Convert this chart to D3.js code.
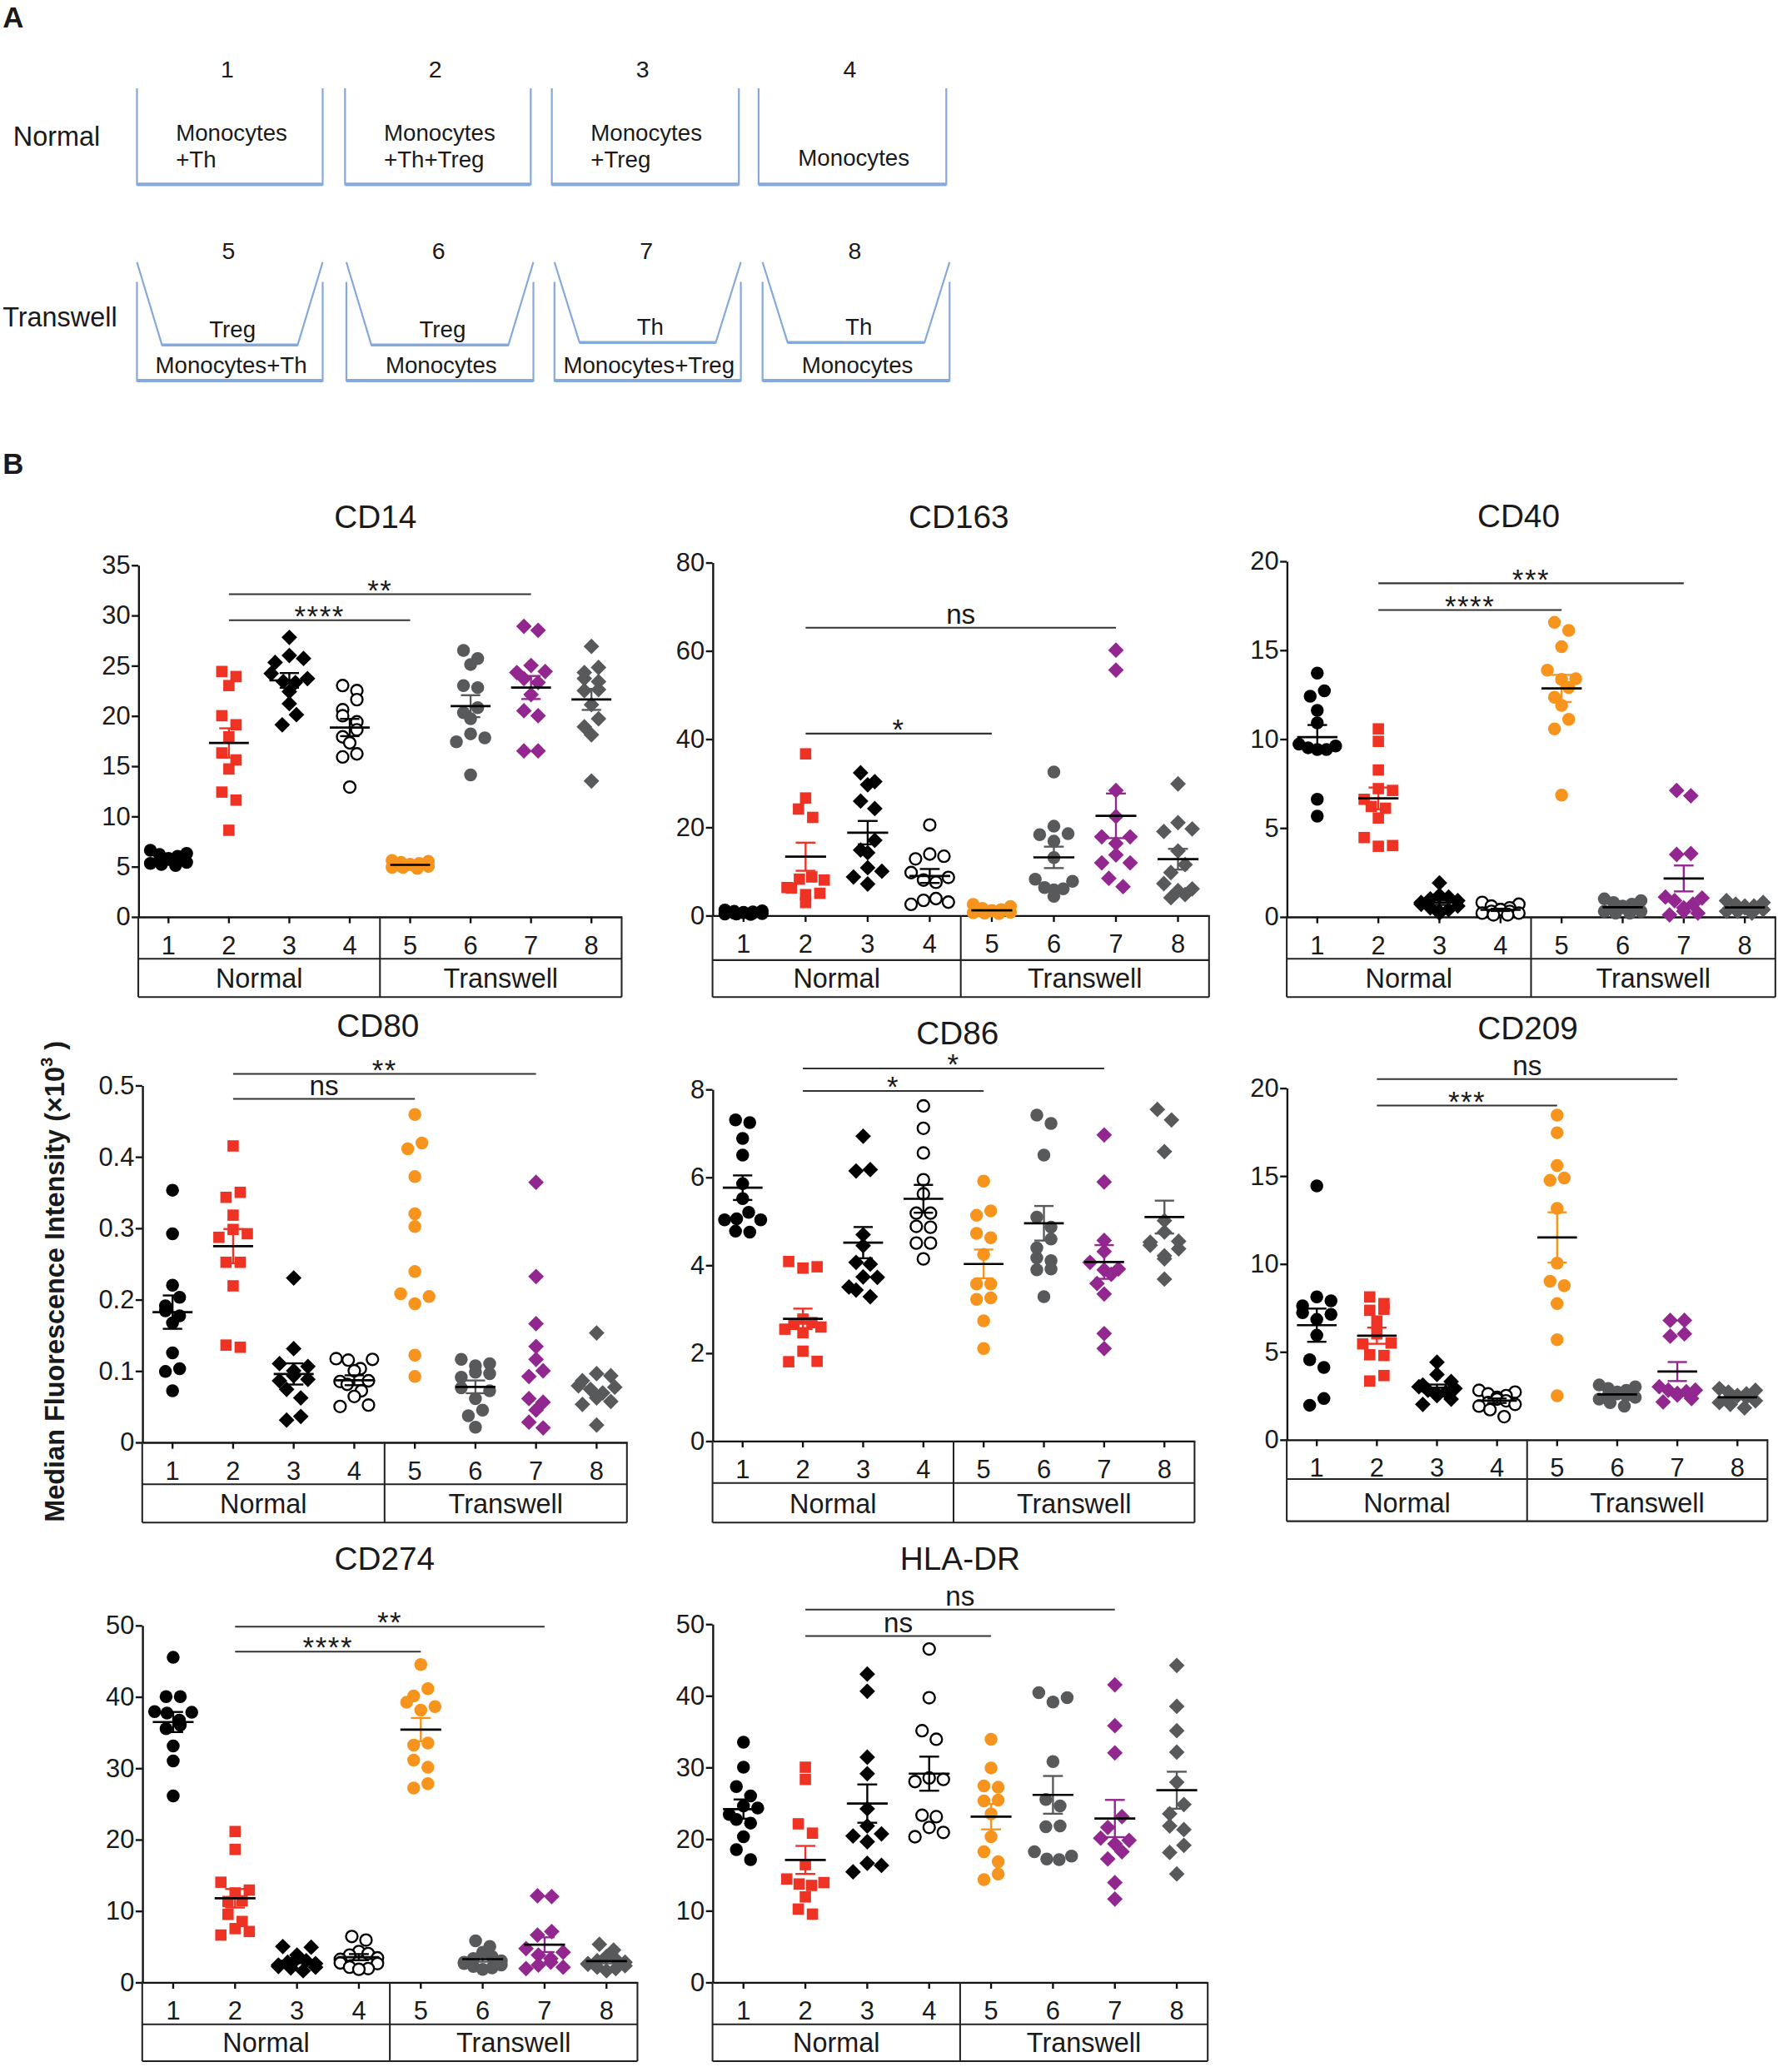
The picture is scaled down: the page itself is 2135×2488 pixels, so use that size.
<!DOCTYPE html>
<html>
<head>
<meta charset="utf-8">
<script src="https://cdn.jsdelivr.net/npm/d3@7"></script>
<style>
html,body{margin:0;padding:0;background:#fff;}
svg{display:block;}
text{font-family:"Liberation Sans",Arial,sans-serif;fill:#1a1a1a;}
</style>
</head>
<body>
<div id="fig"></div>
<script>
// categories
var groups = ["1","2","3","4","5","6","7","8"]
var sections = ["Normal","Transwell"]

// panel A labels
var normalWells = [["Monocytes","+Th"],["Monocytes","+Th+Treg"],["Monocytes","+Treg"],["","Monocytes"]]
var transwellWells = [["Treg","Monocytes+Th"],["Treg","Monocytes"],["Th","Monocytes+Treg"],["Th","Monocytes"]]

// values, one array of 12 donors per condition
var cd14 = [
 [6.6,6.3,6.2,6.0,5.8,5.7,5.6,5.5,5.4,5.3,5.2,5.1],
 [24.4,23.9,23.0,20.0,19.1,17.9,16.3,15.6,14.7,12.4,11.6,8.6],
 [27.8,26.0,25.7,25.3,24.2,23.7,23.4,23.3,22.4,21.2,20.1,19.1],
 [23.0,22.5,21.6,20.6,20.0,19.4,18.6,17.9,17.3,16.2,15.9,12.9],
 [5.6,5.5,5.4,5.3,5.2,5.2,5.1,5.0,5.0,4.9,4.9,4.8],
 [26.5,25.7,25.1,23.0,22.8,20.8,20.3,19.7,18.2,17.8,17.4,14.1],
 [28.9,28.5,25.0,24.4,24.3,23.7,23.3,22.1,20.5,20.0,16.5,16.5],
 [26.9,24.8,24.3,23.7,23.4,22.6,22.5,21.1,19.7,18.9,18.1,13.5]
]
var cd14Ticks = [0,5,10,15,20,25,30,35]
var cd14Sig = [[2,7,32.1,"**"],[2,5,29.5,"****"]]

var cd163 = [
 [1.2,1.0,0.9,0.8,0.7,0.6,0.5,0.5,0.4,0.3,0.3,0.2],
 [36.6,26.6,24.1,22.2,8.7,8.2,8.0,6.3,6.2,5.0,4.7,2.9],
 [32.3,30.3,29.6,25.9,24.2,17.0,14.8,14.2,10.8,10.0,8.7,7.1],
 [20.5,13.9,13.4,12.8,9.7,8.6,8.0,7.5,3.8,3.4,3.0,2.5],
 [2.5,2.0,1.6,1.3,1.1,1.0,0.9,0.8,0.7,0.6,0.5,0.4],
 [32.5,20.2,18.5,18.3,16.8,13.1,8.2,7.7,6.3,6.0,5.8,4.3],
 [60.1,55.6,28.3,22.4,17.8,17.8,16.3,13.7,11.9,11.9,8.4,6.5],
 [29.8,21.0,19.6,19.0,14.6,11.5,9.7,7.2,6.0,5.6,4.7,4.0]
]
var cd163Ticks = [0,20,40,60,80]
var cd163Sig = [[2,7,65.2,"ns"],[2,5,41.2,"*"]]

var cd40 = [
 [13.7,12.7,12.4,11.6,10.9,9.7,9.6,9.5,9.4,9.4,6.6,5.65],
 [10.56,9.86,8.25,7.2,7.1,6.6,6.2,6.1,5.55,4.45,3.96,4.0],
 [1.9,1.2,1.1,1.0,0.9,0.8,0.7,0.6,0.5,0.4,0.3,0.2],
 [0.8,0.7,0.6,0.5,0.4,0.4,0.3,0.3,0.2,0.2,0.1,0.1],
 [16.55,16.1,15.18,13.86,13.38,13.35,12.89,12.34,11.88,11.1,10.56,6.84],
 [1.0,0.9,0.8,0.7,0.6,0.5,0.5,0.4,0.3,0.3,0.2,0.2],
 [7.1,6.8,3.55,3.5,1.1,1.05,0.9,0.7,0.5,0.3,0.2,0.1],
 [0.9,0.8,0.7,0.6,0.6,0.5,0.5,0.4,0.4,0.3,0.3,0.2]
]
var cd40Ticks = [0,5,10,15,20]
var cd40Sig = [[2,7,18.75,"***"],[2,5,17.25,"****"]]

var cd80 = [
 [.353,.292,.220,.203,.191,.184,.177,.167,.125,.103,.099,.072],
 [.415,.350,.343,.318,.298,.292,.287,.252,.252,.219,.136,.133],
 [.230,.131,.110,.106,.100,.093,.088,.086,.074,.062,.036,.031],
 [.117,.116,.115,.103,.100,.086,.085,.081,.072,.064,.052,.050],
 [.459,.419,.411,.372,.320,.302,.239,.208,.204,.194,.122,.092],
 [.116,.110,.107,.098,.096,.091,.076,.072,.061,.045,.037,.021],
 [.364,.232,.166,.134,.116,.100,.092,.061,.056,.045,.028,.020],
 [.153,.096,.093,.086,.079,.077,.074,.069,.062,.057,.053,.024]
]
var cd80Ticks = [0,0.1,0.2,0.3,0.4,0.5]
var cd80Sig = [[2,7,0.516,"**"],[2,5,0.481,"ns"]]

var cd86 = [
 [7.30,7.24,6.88,6.50,5.85,5.51,5.20,5.05,5.03,5.03,4.77,4.75],
 [4.08,3.96,3.93,2.77,2.69,2.65,2.59,2.54,2.46,2.04,1.81,1.80],
 [6.93,6.17,6.14,4.69,4.44,4.06,4.02,3.73,3.72,3.50,3.43,3.28],
 [7.62,7.11,6.55,5.94,5.62,5.18,5.18,4.88,4.86,4.50,4.50,4.14],
 [5.91,5.23,5.13,4.72,4.62,4.24,3.57,3.57,3.25,3.22,2.73,2.10],
 [7.41,7.22,6.50,5.09,4.86,4.59,4.39,4.16,4.10,3.91,3.89,3.28],
 [6.96,5.89,4.56,4.31,4.06,3.91,3.89,3.79,3.58,3.34,2.44,2.10],
 [7.54,7.30,6.58,5.01,4.75,4.54,4.52,4.45,4.37,4.21,4.14,3.68]
]
var cd86Ticks = [0,2,4,6,8]
var cd86Sig = [[2,7,8.47,"*"],[2,5,7.96,"*"]]

var cd209 = [
 [14.43,8.11,7.89,7.60,7.21,7.12,6.83,5.93,4.54,4.10,2.33,1.95],
 [8.11,7.73,7.41,7.35,6.74,6.01,5.49,5.44,4.82,4.78,3.64,3.33],
 [4.4,3.7,3.3,3.1,3.0,2.9,2.8,2.7,2.6,2.5,2.3,2.0],
 [2.8,2.7,2.6,2.5,2.4,2.3,2.2,2.1,2.0,1.9,1.7,1.3],
 [18.45,17.45,15.58,14.87,14.74,13.15,10.03,9.0,8.75,7.73,5.68,2.49],
 [3.1,3.0,2.9,2.8,2.7,2.6,2.5,2.5,2.4,2.3,2.1,1.9],
 [6.78,6.78,6.01,5.88,3.0,2.81,2.81,2.72,2.62,2.53,2.33,2.14],
 [2.9,2.8,2.7,2.6,2.5,2.5,2.4,2.3,2.2,2.1,2.0,1.8]
]
var cd209Ticks = [0,5,10,15,20]
var cd209Sig = [[2,7,20.5,"ns"],[2,5,19.0,"***"]]

var cd274 = [
 [45.5,40.0,40.0,37.9,37.8,37.7,36.7,36.0,35.5,33.1,31.0,26.1],
 [21.1,18.6,14.0,12.9,12.5,11.4,11.3,9.5,8.5,7.5,7.1,6.6],
 [5.0,4.9,3.8,3.3,3.0,2.8,2.6,2.4,2.2,2.1,2.0,1.6],
 [6.4,5.9,4.3,4.0,3.8,3.4,3.2,2.7,2.6,2.1,1.9,1.8],
 [44.5,41.1,40.1,39.2,38.6,38.1,33.5,33.2,31.1,30.1,27.8,27.2],
 [5.8,5.0,4.2,3.6,3.3,3.0,2.8,2.6,2.4,2.2,2.0,1.8],
 [12.1,12.0,7.1,6.6,4.7,4.2,3.8,3.3,2.8,2.4,2.1,1.9],
 [5.3,4.5,3.6,3.2,3.0,2.8,2.6,2.5,2.3,2.1,1.9,1.6]
]
var cd274Ticks = [0,10,20,30,40,50]
var cd274Sig = [[2,7,49.8,"**"],[2,5,46.3,"****"]]

var hladr = [
 [33.5,30.0,27.3,26.0,24.6,24.3,23.4,22.7,22.2,20.3,18.5,17.1],
 [30.0,28.3,22.1,20.8,16.4,14.4,13.9,13.7,13.5,11.9,10.2,9.5],
 [43.0,40.6,31.4,29.1,24.2,21.8,20.7,20.4,19.6,16.6,16.3,15.4],
 [46.5,39.7,35.1,33.9,28.5,28.3,28.0,23.3,23.1,21.6,20.9,20.3],
 [33.9,29.9,27.4,27.2,25.4,25.3,23.5,20.3,18.2,16.8,15.1,14.3],
 [40.4,39.7,39.1,30.8,25.5,24.6,21.8,21.7,18.2,17.6,17.2,17.1],
 [41.5,35.8,32.0,23.1,21.6,20.1,19.8,19.3,18.2,17.2,13.9,11.6],
 [44.2,38.5,35.1,32.1,27.9,24.8,23.5,21.8,21.3,19.1,18.1,15.1]
]
var hladrTicks = [0,10,20,30,40,50]
var hladrSig = [[2,7,52.0,"ns"],[2,5,48.3,"ns"]]

// styles per condition
var RED = "#ee3224", ORANGE = "#f7941d", PURPLE = "#92278f", GREY = "#58595b", BLUE = "#86a9dc"
var fills = ["#000", RED, "#000", "#fff", ORANGE, GREY, PURPLE, GREY]
var shapes = ["circle","square","diamond","circle","circle","circle","diamond","diamond"]
var semColors = ["#000", RED, "#000", "#000", ORANGE, GREY, PURPLE, GREY]

// layout in a 1350 wide drawing space, scaled up by the viewBox
var W = 1350, H = 1350 * 2488 / 2135
var panels = [
 {name:"CD14", data:cd14, ticks:cd14Ticks, sig:cd14Sig, left:105, right:472, top:429, zero:696, mid:728, bot:757, tx:285, ty:401},
 {name:"CD163", data:cd163, ticks:cd163Ticks, sig:cd163Sig, left:541, right:918, top:427, zero:695, mid:729, bot:757, tx:728, ty:401},
 {name:"CD40", data:cd40, ticks:cd40Ticks, sig:cd40Sig, left:977, right:1348, top:426, zero:696, mid:728, bot:757, tx:1153, ty:400},
 {name:"CD80", data:cd80, ticks:cd80Ticks, sig:cd80Sig, left:108, right:476, top:824, zero:1095, mid:1127, bot:1156, tx:287, ty:787, noMean:[4,6,7]},
 {name:"CD86", data:cd86, ticks:cd86Ticks, sig:cd86Sig, left:541, right:907, top:827, zero:1094, mid:1126, bot:1156, tx:727, ty:793},
 {name:"CD209", data:cd209, ticks:cd209Ticks, sig:cd209Sig, left:977, right:1342, top:826, zero:1093, mid:1123, bot:1155, tx:1160, ty:789},
 {name:"CD274", data:cd274, ticks:cd274Ticks, sig:cd274Sig, left:108, right:484, top:1234, zero:1505, mid:1537, bot:1565, tx:292, ty:1192},
 {name:"HLA-DR", data:hladr, ticks:hladrTicks, sig:hladrSig, left:541, right:917, top:1233, zero:1505, mid:1537, bot:1565, tx:729, ty:1192}
]

var svg = d3.select("#fig").append("svg")
  .attr("width", 2135).attr("height", 2488)
  .attr("viewBox", "0 0 " + W + " " + H)

// ---------- panel A: well schematic ----------
svg.append("text").attr("x", 2).attr("y", 21).attr("font-size", 22).attr("font-weight", "bold").text("A")
svg.append("text").attr("x", 2).attr("y", 360).attr("font-size", 22).attr("font-weight", "bold").text("B")

var wellX = [[104,245],[262,403],[419,561],[576,718.5]]
var twX = [[104,245],[263,405],[421,562.5],[579,721]]
var insetIn = 19

svg.append("text").attr("x", 10).attr("y", 110.5).attr("font-size", 20.5).text("Normal")
svg.append("text").attr("x", 2).attr("y", 248).attr("font-size", 20.5).text("Transwell")

normalWells.forEach(function(t, i) {
  var a = wellX[i][0], b = wellX[i][1], c = (a + b) / 2
  svg.append("path").attr("d", "M" + a + ",67V140H" + b + "V67")
    .attr("fill", "none").attr("stroke", BLUE).attr("stroke-width", 1.4)
  svg.append("line").attr("x1", a).attr("x2", b).attr("y1", 140).attr("y2", 140)
    .attr("stroke", BLUE).attr("stroke-width", 2.6)
  svg.append("text").attr("x", c - 2).attr("y", 58.5).attr("text-anchor", "middle").attr("font-size", 18).text(groups[i])
  if (t[0]) {
    svg.append("text").attr("x", a + 29.5).attr("y", 107).attr("font-size", 17.5).text(t[0])
    svg.append("text").attr("x", a + 29.5).attr("y", 127).attr("font-size", 17.5).text(t[1])
  } else {
    svg.append("text").attr("x", c + 1).attr("y", 126).attr("text-anchor", "middle").attr("font-size", 17.5).text(t[1])
  }
})

transwellWells.forEach(function(t, i) {
  var a = twX[i][0], b = twX[i][1], c = (a + b) / 2
  var yb = i < 2 ? 262 : 260
  svg.append("path").attr("d", "M" + a + ",214V289H" + b + "V214")
    .attr("fill", "none").attr("stroke", BLUE).attr("stroke-width", 1.4)
  svg.append("line").attr("x1", a).attr("x2", b).attr("y1", 289).attr("y2", 289)
    .attr("stroke", BLUE).attr("stroke-width", 2.6)
  svg.append("path").attr("d", "M" + a + ",199L" + (a + insetIn) + "," + yb + "H" + (b - insetIn) + "L" + b + ",199")
    .attr("fill", "none").attr("stroke", BLUE).attr("stroke-width", 1.4)
  svg.append("line").attr("x1", a + insetIn).attr("x2", b - insetIn).attr("y1", yb).attr("y2", yb)
    .attr("stroke", BLUE).attr("stroke-width", 2.2)
  svg.append("text").attr("x", c - 1).attr("y", 196.5).attr("text-anchor", "middle").attr("font-size", 18).text(groups[i + 4])
  svg.append("text").attr("x", c + 2).attr("y", yb - 6).attr("text-anchor", "middle").attr("font-size", 17.5).text(t[0])
  svg.append("text").attr("x", c + 1).attr("y", 283).attr("text-anchor", "middle").attr("font-size", 17.5).text(t[1])
})

// ---------- panel B ----------
svg.append("text")
  .attr("transform", "translate(49,973) rotate(-90)")
  .attr("text-anchor", "middle").attr("font-size", 20.5).attr("font-weight", "bold")
  .text("Median Fluorescence Intensity (\u00d710")
  .append("tspan").attr("dy", -9).attr("font-size", 13).text("3")
  .select(function() { return this.parentNode })
  .append("tspan").attr("dy", 9).text(" )")

// scatter-dot layout: points close in value share a row (at most maxN per row),
// rows are centred and filled outside-in so dense clusters come out as blobs
function swarm(vals, y, r, maxOff) {
  var order = d3.range(vals.length).sort(function(a, b) { return vals[b] - vals[a] })
  var maxN = 5
  var rows = [], cur = null
  order.forEach(function(i) {
    var py = y(vals[i])
    if (cur && py - cur.y0 < 2 * r * 0.85 && cur.items.length < maxN) cur.items.push(i)
    else { cur = {y0: py, items: [i]}; rows.push(cur) }
  })
  var off = []
  rows.forEach(function(row, ri) {
    var n = row.items.length
    var gap = n > 1 ? Math.min(2 * r * 1.1, 2 * maxOff / (n - 1)) : 0
    var slots = d3.range(n).map(function(j) { return (j - (n - 1) / 2) * gap })
    var pick = []
    for (var a = 0, b = n - 1; a <= b; a++, b--) { pick.push(a); if (b != a) pick.push(b) }
    if (ri % 2) pick.reverse()
    row.items.forEach(function(i, j) { off[i] = slots[pick[j]] })
  })
  return off
}

function drawPanel(p) {
  var x = d3.scaleBand().domain(groups).range([p.left, p.right])
  var step = x.bandwidth()
  var cx = function(g) { return x(g) + step / 2 }
  var y = d3.scaleLinear().domain([0, p.ticks[p.ticks.length - 1]]).range([p.zero, p.top])
  var g = svg.append("g")

  g.append("text").attr("x", p.tx).attr("y", p.ty).attr("text-anchor", "middle")
    .attr("font-size", 24.5).text(p.name)

  var ya = g.append("g").attr("transform", "translate(" + p.left + ",0)")
    .call(d3.axisLeft(y).tickValues(p.ticks).tickSize(5).tickSizeOuter(0).tickPadding(1)
      .tickFormat(function(d) { return String(d) }))
  ya.attr("font-family", null).attr("font-size", 19.5)
  ya.selectAll("line,path").attr("stroke", "#111").attr("stroke-width", 1.5)
  ya.selectAll("text").attr("fill", "#1a1a1a")

  var xa = g.append("g").attr("transform", "translate(0," + p.zero + ")")
    .call(d3.axisBottom(x).tickSize(5).tickSizeOuter(0).tickPadding(9.5))
  xa.attr("font-family", null).attr("font-size", 19.5)
  xa.selectAll("line,path").attr("stroke", "#111").attr("stroke-width", 1.5)
  xa.selectAll("text").attr("fill", "#1a1a1a")

  // the little table under the axis
  var div = x("5")
  var tl = [[p.left, p.zero, p.left, p.bot], [p.right, p.zero, p.right, p.bot], [div, p.zero, div, p.bot],
            [p.left, p.mid, p.right, p.mid], [p.left, p.bot, p.right, p.bot]]
  g.selectAll(".tbl").data(tl).enter().append("line")
    .attr("x1", function(d) { return d[0] }).attr("y1", function(d) { return d[1] })
    .attr("x2", function(d) { return d[2] }).attr("y2", function(d) { return d[3] })
    .attr("stroke", "#222").attr("stroke-width", 1.3)
  g.selectAll(".sec").data(sections).enter().append("text")
    .attr("x", function(d, i) { return i == 0 ? (p.left + div) / 2 : (div + p.right) / 2 })
    .attr("y", p.bot - 7).attr("text-anchor", "middle").attr("font-size", 20.5)
    .text(function(d) { return d })

  // points
  groups.forEach(function(gr, i) {
    var vals = p.data[i]
    var r = 4.9
    var off = swarm(vals, y, r, step * 0.3)
    var sym = shapes[i] == "circle" ? d3.symbolCircle : d3.symbolSquare
    var size = shapes[i] == "circle" ? Math.PI * r * r : (shapes[i] == "square" ? 8.6 * 8.6 : 8.4 * 8.4)
    var open = fills[i] == "#fff"
    if (open) size = Math.PI * 4.4 * 4.4
    g.append("g").selectAll("path").data(vals).enter().append("path")
      .attr("d", d3.symbol().type(sym).size(size))
      .attr("transform", function(d, j) {
        return "translate(" + (cx(gr) + off[j]) + "," + y(d) + ")" + (shapes[i] == "diamond" ? " rotate(45)" : "")
      })
      .attr("fill", fills[i])
      .attr("stroke", open ? "#000" : "none")
      .attr("stroke-width", open ? 1.5 : 0)
  })

  // mean and SEM on top
  groups.forEach(function(gr, i) {
    if (p.noMean && p.noMean.indexOf(i) >= 0) return
    var vals = p.data[i]
    var m = d3.mean(vals), se = d3.deviation(vals) / Math.sqrt(vals.length)
    var c = cx(gr)
    g.append("line").attr("x1", c).attr("x2", c).attr("y1", y(m - se)).attr("y2", y(m + se))
      .attr("stroke", semColors[i]).attr("stroke-width", 1.5)
    ;[m - se, m + se].forEach(function(v) {
      g.append("line").attr("x1", c - step * 0.16).attr("x2", c + step * 0.16).attr("y1", y(v)).attr("y2", y(v))
        .attr("stroke", semColors[i]).attr("stroke-width", 1.5)
    })
    g.append("line").attr("x1", c - step * 0.33).attr("x2", c + step * 0.33).attr("y1", y(m)).attr("y2", y(m))
      .attr("stroke", "#000").attr("stroke-width", 1.7)
  })

  // significance bars
  p.sig.forEach(function(s) {
    var x1 = cx(groups[s[0] - 1]), x2 = cx(groups[s[1] - 1]), yy = y(s[2])
    var stars = s[3] != "ns"
    g.append("line").attr("x1", x1).attr("x2", x2).attr("y1", yy).attr("y2", yy)
      .attr("stroke", "#333").attr("stroke-width", 1.3)
    g.append("text").attr("x", (x1 + x2) / 2).attr("y", stars ? yy + 4.5 : yy - 3)
      .attr("text-anchor", "middle").attr("font-size", stars ? 22 : 21)
      .attr("letter-spacing", stars ? 1 : 0)
      .text(s[3])
  })
}

panels.forEach(drawPanel)
</script>
</body>
</html>
